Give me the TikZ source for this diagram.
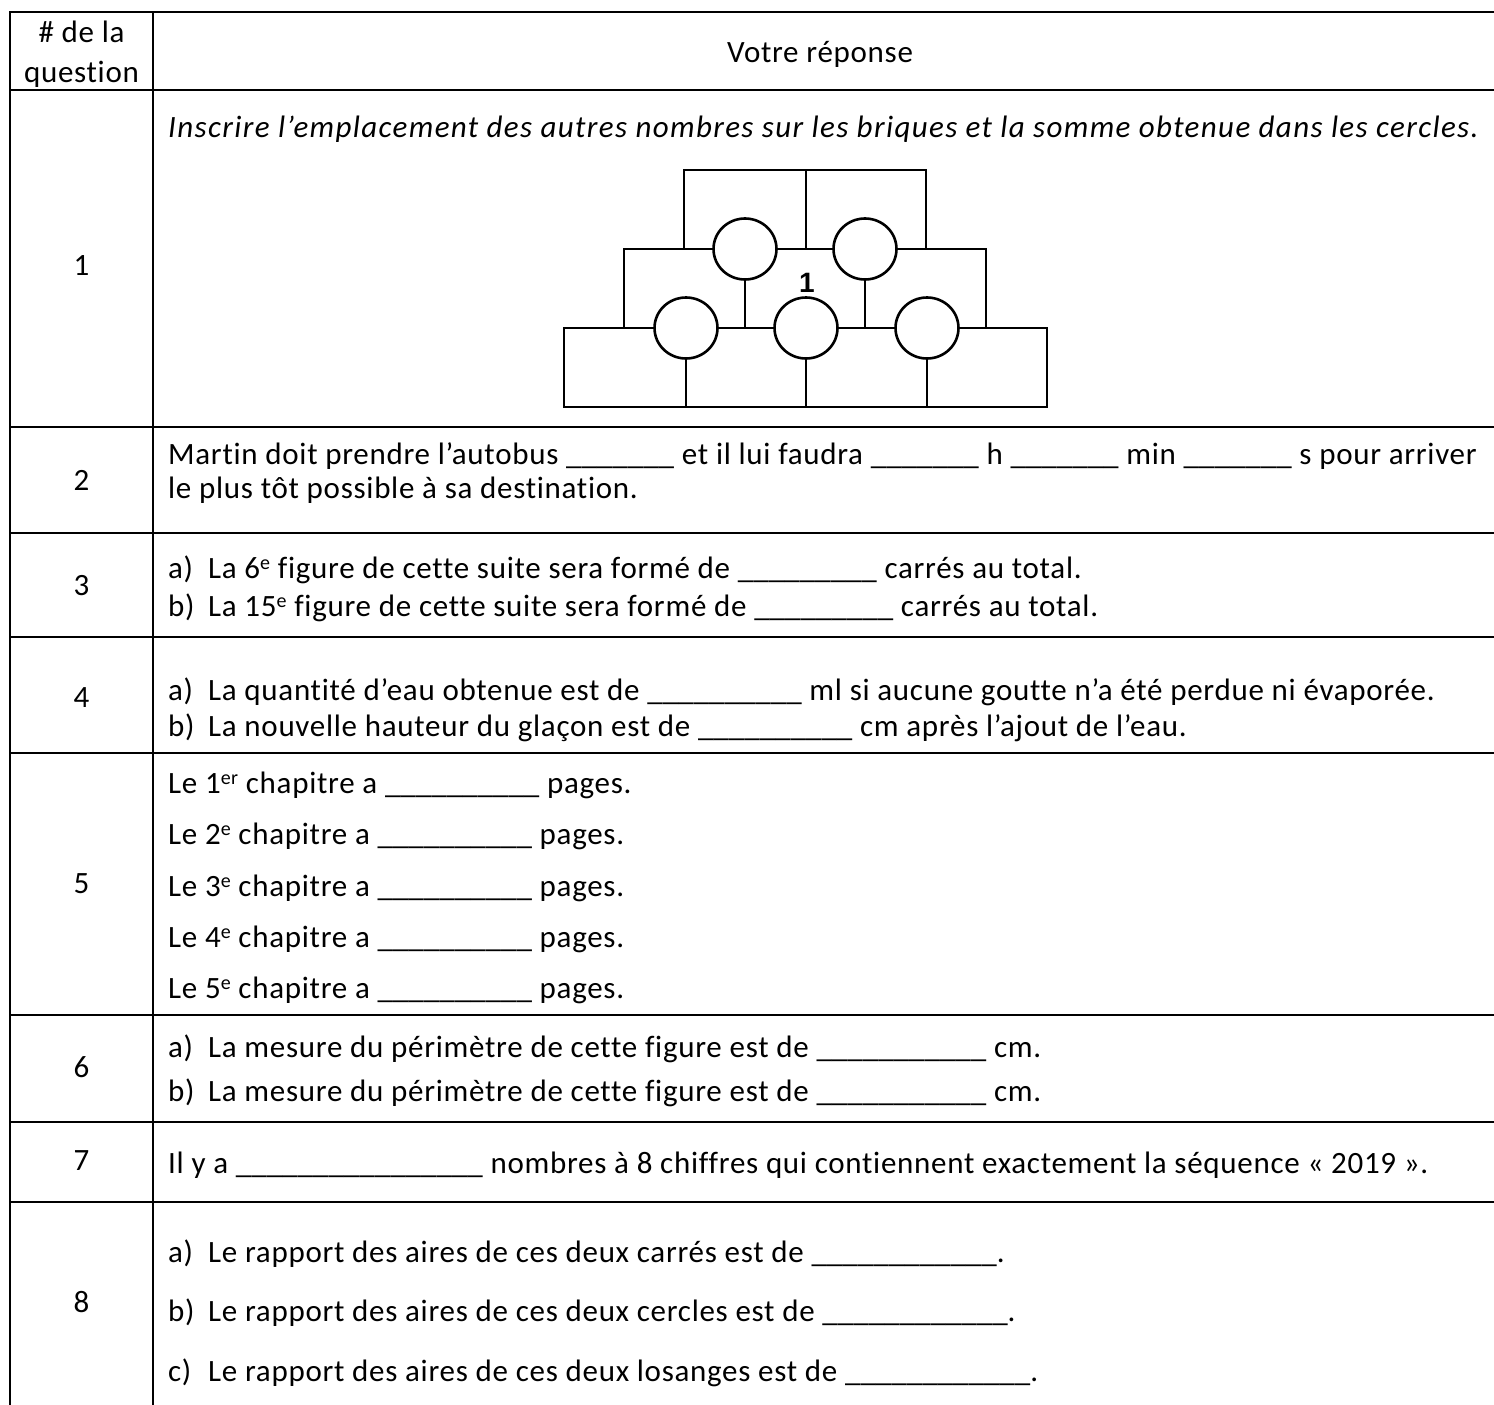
\documentclass[tikz,border=0pt]{standalone}
\usepackage{fontspec}
\setmainfont{Carlito}[LetterSpace=2.3, Ligatures=NoCommon]
\newfontfamily\itf{Carlito}[LetterSpace=4.4, Ligatures=NoCommon]
\newfontfamily\ulf{Carlito}
\newfontfamily\arialbold{Liberation Sans}
\begin{document}
\begin{tikzpicture}[x=1pt,y=-1pt,
  grid/.style={line width=2.2pt, line cap=rect},
  brick/.style={line width=2.6pt},
  txt/.style={inner sep=0pt, anchor=base west, font=\fontsize{31}{38}\selectfont},
  num/.style={inner sep=0pt, anchor=base, font=\fontsize{31}{38}\selectfont},
  circ/.style={brick, fill=white}]
\useasboundingbox (0,0) rectangle (1494,1405);
\newcommand\lbl[1]{\makebox[40pt][l]{#1}}
\newcommand\sups[1]{\raisebox{0.55ex}{\fontsize{20}{20}\selectfont #1}}
\newcommand\bl[1]{{\ulf\foreach \i in {1,...,#1}{\_}}}
% table grid
\coordinate (TL) at (10,12);
\coordinate (TR) at (1494,12);
\coordinate (BL) at (10,1405);
\coordinate (CT) at (153,12);
\coordinate (CB) at (153,1405);
\draw[grid] (BL) -- (TL) -- (TR);
\draw[grid] (CT) -- (CB);
\foreach \yy in {90,427,533,637,753,1015,1122,1202}
  \draw[grid] (10,\yy) -- (1494,\yy);
% header
\node[num] (h1) at (81.5,43) {\# de la};
\node[num] (h2) at (81.5,82) {question};
\node[num] (h3) at (820,63) {Votre réponse};
% question numbers
\node[num] (n1) at (81.5,275) {1};
\node[num] (n2) at (81.5,490) {2};
\node[num] (n3) at (81.5,595) {3};
\node[num] (n4) at (81.5,707) {4};
\node[num] (n5) at (81.5,893) {5};
\node[num] (n6) at (81.5,1077) {6};
\node[num] (n7) at (81.5,1170) {7};
\node[num] (n8) at (81.5,1312) {8};
% row 1
\node[txt] (q1) at (168,137) {\itf\itshape Inscrire l’emplacement des autres nombres sur les briques et la somme obtenue dans les cercles.};
% bricks
\draw[brick] (684,249) -- (684,170) -- (926,170) -- (926,249);
\draw[brick] (806,170) -- (806,249);
\draw[brick] (624,328) -- (624,249) -- (986,249) -- (986,328);
\draw[brick] (745,249) -- (745,328);
\draw[brick] (865,249) -- (865,328);
\draw[brick] (564,328) -- (1047,328) -- (1047,407) -- (564,407) -- cycle;
\draw[brick] (686,328) -- (686,407);
\draw[brick] (806,328) -- (806,407);
\draw[brick] (927,328) -- (927,407);
\foreach \cx/\cy in {745/249, 865/249, 686/328, 806/328, 927/328}
  \draw[circ] (\cx,\cy) ellipse [x radius=31.5, y radius=30.5];
\node[inner sep=0pt, anchor=base, font=\arialbold\bfseries\fontsize{28}{30}\selectfont] (one) at (807,292) {1};
% row 2
\node[txt] (q2a) at (168,464) {Martin doit prendre l’autobus \bl{7} et il lui faudra \bl{7} h \bl{7} min \bl{7} s pour arriver};
\node[txt] (q2b) at (168,498) {le plus tôt possible à sa destination.};
% row 3
\node[txt] (q3a) at (168,578) {\lbl{a)}La 6\sups{e} figure de cette suite sera formé de \bl{9} carrés au total.};
\node[txt] (q3b) at (168,616) {\lbl{b)}La 15\sups{e} figure de cette suite sera formé de \bl{9} carrés au total.};
% row 4
\node[txt] (q4a) at (168,700) {\lbl{a)}La quantité d’eau obtenue est de \bl{10} ml si aucune goutte n’a été perdue ni évaporée.};
\node[txt] (q4b) at (168,736) {\lbl{b)}La nouvelle hauteur du glaçon est de \bl{10} cm après l’ajout de l’eau.};
% row 5
\node[txt] (q5a) at (168,793) {Le 1\sups{er} chapitre a \bl{10} pages.};
\node[txt] (q5b) at (168,844) {Le 2\sups{e} chapitre a \bl{10} pages.};
\node[txt] (q5c) at (168,896) {Le 3\sups{e} chapitre a \bl{10} pages.};
\node[txt] (q5d) at (168,947) {Le 4\sups{e} chapitre a \bl{10} pages.};
\node[txt] (q5e) at (168,998) {Le 5\sups{e} chapitre a \bl{10} pages.};
% row 6
\node[txt] (q6a) at (168,1057) {\lbl{a)}La mesure du périmètre de cette figure est de \bl{11} cm.};
\node[txt] (q6b) at (168,1101) {\lbl{b)}La mesure du périmètre de cette figure est de \bl{11} cm.};
% row 7
\node[txt] (q7) at (168,1173) {Il y a \bl{16} nombres à 8 chiffres qui contiennent exactement la séquence «~2019~».};
% row 8
\node[txt] (q8a) at (168,1262) {\lbl{a)}Le rapport des aires de ces deux carrés est de \bl{12}.};
\node[txt] (q8b) at (168,1321) {\lbl{b)}Le rapport des aires de ces deux cercles est de \bl{12}.};
\node[txt] (q8c) at (168,1381) {\lbl{c)}Le rapport des aires de ces deux losanges est de \bl{12}.};
\end{tikzpicture}
\end{document}
